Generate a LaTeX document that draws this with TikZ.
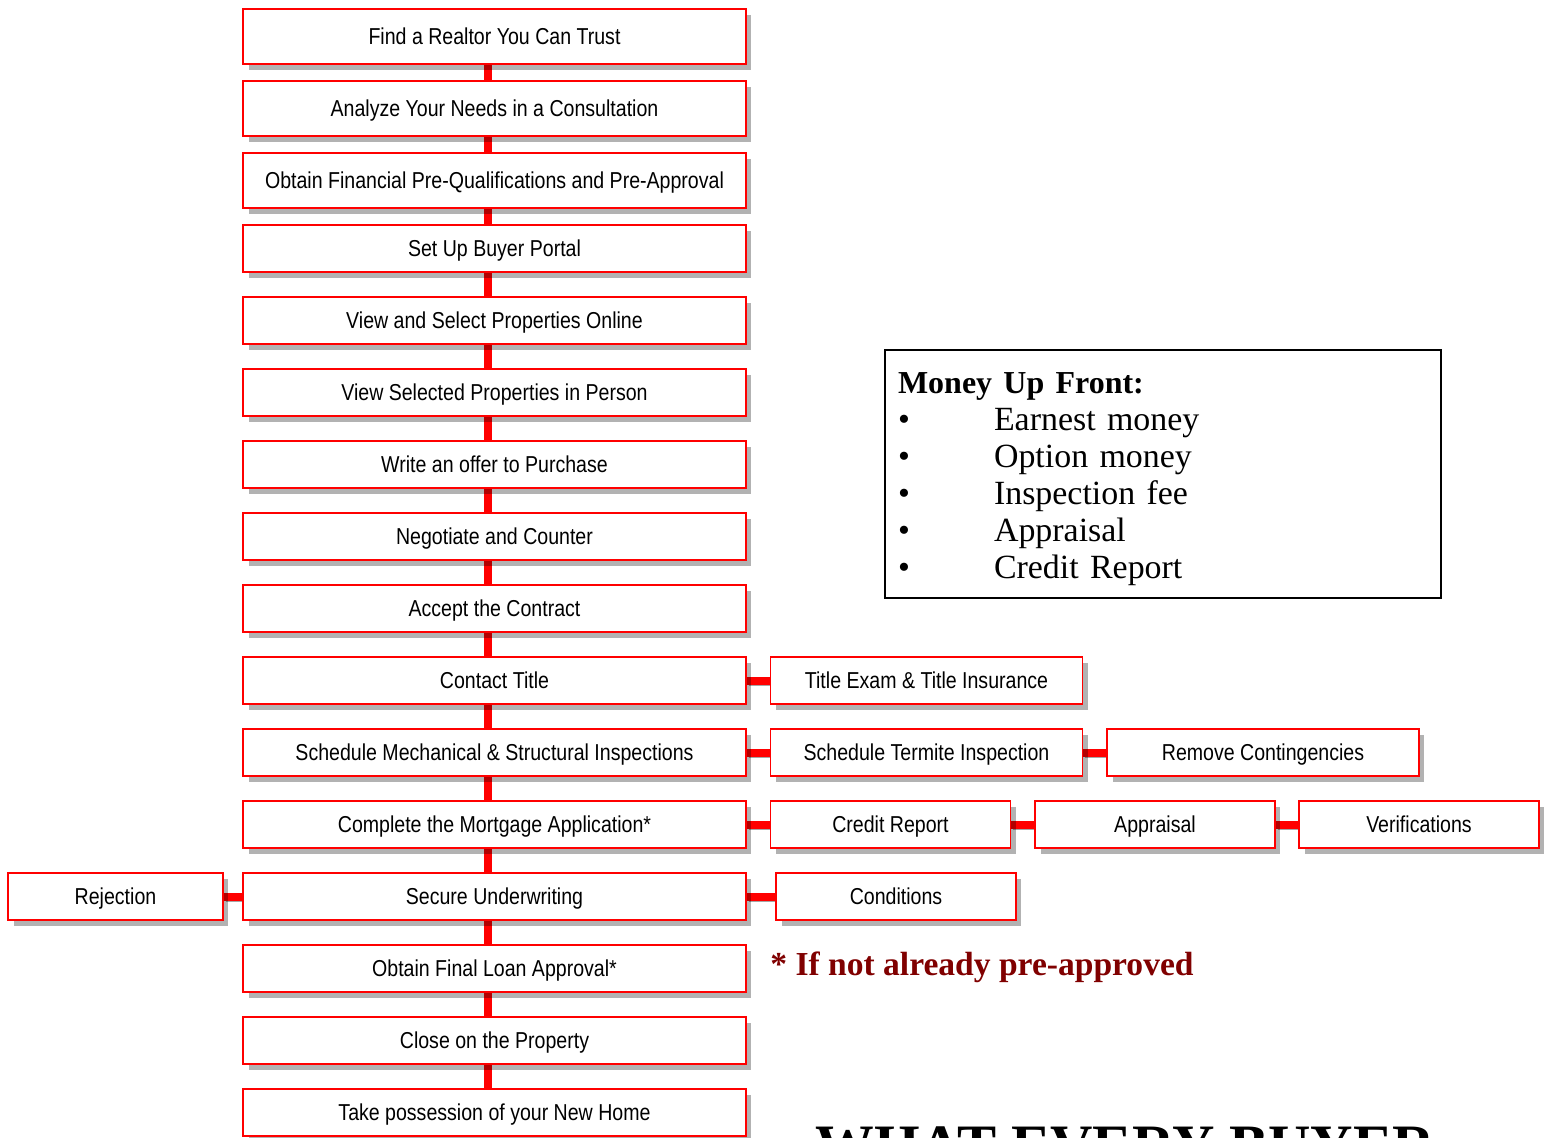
\documentclass[tikz,border=0pt]{standalone}
\usepackage{fontspec}
\setmainfont{Liberation Serif}
\newfontfamily\boxfont[FakeStretch=0.85]{Liberation Sans}
\usepackage{xcolor}
\usepackage{tikz}
\usetikzlibrary{positioning, calc, shadows, backgrounds}

\definecolor{notered}{RGB}{128,0,0}

\begin{document}
\begin{tikzpicture}[
    x=0.02cm, y=-0.02cm,
    stepbox/.style={
        rectangle, draw=red, line width=1pt, fill=white,
        minimum width=10.06cm, minimum height=0.94cm, inner sep=0pt,
        text height=9.4pt, text depth=0pt,
        font=\boxfont\fontsize{13.1}{15}\selectfont,
        drop shadow={shadow xshift=0.11cm, shadow yshift=-0.12cm, fill=black, opacity=0.3}
    },
    tallbox/.style={stepbox, minimum height=1.1cm},
    sidebox/.style={stepbox, minimum width=6.24cm},
    smallbox/.style={stepbox, minimum width=4.8cm},
    link/.style={draw=red, line width=0.16cm},
    hlink/.style={link, preaction={draw=black, opacity=0.35, transform canvas={shift={(0.04cm,-0.09cm)}}}},
    moneybox/.style={
        rectangle, draw=black, line width=1.2pt, anchor=north west,
        text width=10.6cm, inner xsep=0.26cm, minimum height=4.96cm,
        align=left, font=\fontsize{19.3}{21.1}\selectfont
    }
]
\useasboundingbox (0,0) rectangle (1549,1138);
\clip (0,0) rectangle (1549,1138);

% Main steps
\node[tallbox] (find)       at (494.5,  36.5) {Find a Realtor You Can Trust};
\node[tallbox] (analyze)    at (494.5, 108.5) {Analyze Your Needs in a Consultation};
\node[tallbox] (finance)    at (494.5, 180.5) {Obtain Financial Pre-Qualifications and Pre-Approval};
\node[stepbox] (portal)     at (494.5, 248.5) {Set Up Buyer Portal};
\node[stepbox] (online)     at (494.5, 320.5) {View and Select Properties Online};
\node[stepbox] (inperson)   at (494.5, 392.5) {View Selected Properties in Person};
\node[stepbox] (offer)      at (494.5, 464.5) {Write an offer to Purchase};
\node[stepbox] (negotiate)  at (494.5, 536.5) {Negotiate and Counter};
\node[stepbox] (accept)     at (494.5, 608.5) {Accept the Contract};
\node[stepbox] (title)      at (494.5, 680.5) {Contact Title};
\node[stepbox] (inspect)    at (494.5, 752.5) {Schedule Mechanical \& Structural Inspections};
\node[stepbox] (mortgage)   at (494.5, 824.5) {Complete the Mortgage Application*};
\node[stepbox] (underwrite) at (494.5, 896.5) {Secure Underwriting};
\node[stepbox] (approval)   at (494.5, 968.5) {Obtain Final Loan Approval*};
\node[stepbox] (close)      at (494.5,1040.5) {Close on the Property};
\node[stepbox] (possess)    at (494.5,1112.5) {Take possession of your New Home};

% Side steps
\node[sidebox] (titleexam)   at (926.5, 680.5) {Title Exam \& Title Insurance};
\node[sidebox] (termite)     at (926.5, 752.5) {Schedule Termite Inspection};
\node[sidebox] (contingency) at (1263,  752.5) {Remove Contingencies};
\node[smallbox] (credit)     at (890.5, 824.5) {Credit Report};
\node[smallbox] (appraisal)  at (1155,  824.5) {Appraisal};
\node[smallbox] (verify)     at (1419,  824.5) {Verifications};
\node[smallbox] (conditions) at (896,   896.5) {Conditions};
\node[stepbox, minimum width=4.3cm] (rejection) at (115.5, 896.5) {Rejection};

% Connectors
\begin{scope}[on background layer]
\draw[link] ([xshift=-0.13cm]find.south)       -- ([xshift=-0.13cm]analyze.north);
\draw[link] ([xshift=-0.13cm]analyze.south)    -- ([xshift=-0.13cm]finance.north);
\draw[link] ([xshift=-0.13cm]finance.south)    -- ([xshift=-0.13cm]portal.north);
\draw[link] ([xshift=-0.13cm]portal.south)     -- ([xshift=-0.13cm]online.north);
\draw[link] ([xshift=-0.13cm]online.south)     -- ([xshift=-0.13cm]inperson.north);
\draw[link] ([xshift=-0.13cm]inperson.south)   -- ([xshift=-0.13cm]offer.north);
\draw[link] ([xshift=-0.13cm]offer.south)      -- ([xshift=-0.13cm]negotiate.north);
\draw[link] ([xshift=-0.13cm]negotiate.south)  -- ([xshift=-0.13cm]accept.north);
\draw[link] ([xshift=-0.13cm]accept.south)     -- ([xshift=-0.13cm]title.north);
\draw[link] ([xshift=-0.13cm]title.south)      -- ([xshift=-0.13cm]inspect.north);
\draw[link] ([xshift=-0.13cm]inspect.south)    -- ([xshift=-0.13cm]mortgage.north);
\draw[link] ([xshift=-0.13cm]mortgage.south)   -- ([xshift=-0.13cm]underwrite.north);
\draw[link] ([xshift=-0.13cm]underwrite.south) -- ([xshift=-0.13cm]approval.north);
\draw[link] ([xshift=-0.13cm]approval.south)   -- ([xshift=-0.13cm]close.north);
\draw[link] ([xshift=-0.13cm]close.south)      -- ([xshift=-0.13cm]possess.north);

\draw[hlink] (title.east)      -- (titleexam.west);
\draw[hlink] (inspect.east)    -- (termite.west);
\draw[hlink] (termite.east)    -- (contingency.west);
\draw[hlink] (mortgage.east)   -- (credit.west);
\draw[hlink] (credit.east)     -- (appraisal.west);
\draw[hlink] (appraisal.east)  -- (verify.west);
\draw[hlink] (underwrite.east) -- (conditions.west);
\draw[hlink] (rejection.east)  -- (underwrite.west);
\end{scope}

% Money box
\node[moneybox] (money) at (884,349) {%
    \rule{0pt}{17.7pt}{\fontsize{18.2}{21.1}\selectfont\bfseries Money Up Front:}\\
    \makebox[1.92cm][l]{\textbullet}Earnest money\\
    \makebox[1.92cm][l]{\textbullet}Option money\\
    \makebox[1.92cm][l]{\textbullet}Inspection fee\\
    \makebox[1.92cm][l]{\textbullet}Appraisal\\
    \makebox[1.92cm][l]{\textbullet}Credit Report};

% Notes
\node[anchor=base west, inner sep=0pt, text=notered, font=\fontsize{19.1}{22}\selectfont\bfseries] (note) at (770,975) {* If not already pre-approved};
\node[anchor=base west, inner sep=0pt, font=\fontsize{33.4}{38}\selectfont\bfseries] (heading) at (815,1165) {WHAT EVERY BUYER};

\end{tikzpicture}
\end{document}
